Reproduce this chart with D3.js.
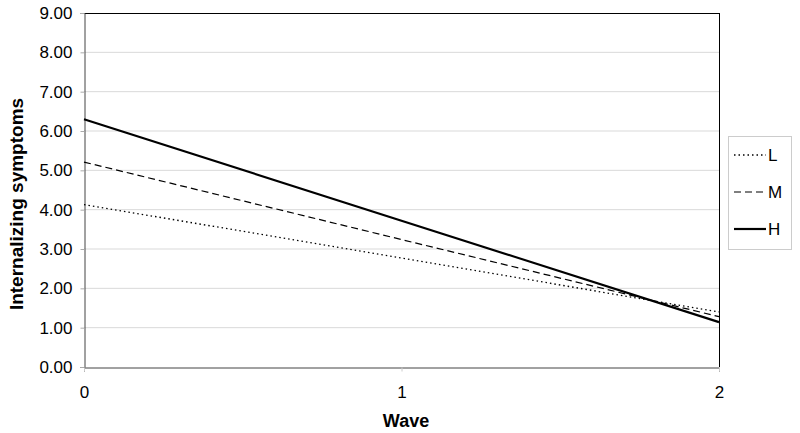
<!DOCTYPE html>
<html lang="en">
  <head>
    <meta charset="UTF-8">
    <script src="https://d3js.org/d3.v7.min.js"></script>
    <style>
      html,body{ margin:0; background:#fff; }
      svg{ font-family: "Liberation Sans", Arial, sans-serif; }
    </style>
  </head>
  <body>
    <svg id="chart" width="800" height="433"></svg>
  </body>
</html>
<script>
var waves = [0, 1, 2];
var yTicks = [0, 1, 2, 3, 4, 5, 6, 7, 8, 9];
var seriesNames = ["L", "M", "H"];
var valuesL = [4.13, 2.77, 1.40];
var valuesM = [5.21, 3.24, 1.28];
var valuesH = [6.30, 3.72, 1.14];
var dashes = ["1.5,3", "7,4", null];
var widths = [1.3, 1.2, 2.2];

var svg = d3.select("#chart");
var margin = {left: 84, top: 13, right: 719, bottom: 367};

var x = d3.scaleLinear().domain([0, 2]).range([margin.left, margin.right]);
var y = d3.scaleLinear().domain([0, 9]).range([margin.bottom, margin.top]);

// gridlines
svg.append("g").selectAll("line").data(yTicks.slice(1, -1)).enter().append("line")
    .attr("x1", margin.left).attr("x2", margin.right)
    .attr("y1", function(d){ return y(d); }).attr("y2", function(d){ return y(d); })
    .attr("stroke", "#d9d9d9").attr("stroke-width", 1);

// frame top/right
svg.append("line").attr("x1", margin.left).attr("x2", margin.right)
    .attr("y1", margin.top + 0.5).attr("y2", margin.top + 0.5).attr("stroke", "#000");
svg.append("line").attr("x1", margin.right + 0.5).attr("x2", margin.right + 0.5)
    .attr("y1", margin.top).attr("y2", margin.bottom).attr("stroke", "#000");

// axes
var yAxis = d3.axisLeft(y).tickValues(yTicks).tickFormat(d3.format(".2f")).tickSize(4).tickPadding(8);
var gy = svg.append("g").attr("transform", "translate(" + (margin.left + 0.5) + ",0)").call(yAxis);
gy.select(".domain").attr("stroke", "#444");
gy.selectAll(".tick line").attr("stroke", "#aaa");
gy.selectAll("text").attr("font-size", 17).attr("fill", "#000");

var xAxis = d3.axisBottom(x).tickValues(waves).tickFormat(d3.format("d")).tickSize(4).tickPadding(14);
var gx = svg.append("g").attr("transform", "translate(0," + (margin.bottom + 0.5) + ")").call(xAxis);
gx.select(".domain").attr("stroke", "#444");
gx.selectAll(".tick line").attr("stroke", "#ccc");
gx.selectAll("text").attr("font-size", 17).attr("fill", "#000");

// axis titles
svg.append("text").attr("x", 406).attr("y", 427).attr("text-anchor", "middle")
    .attr("font-size", 18).attr("font-weight", "bold").text("Wave");
svg.append("text").attr("transform", "translate(23,204) rotate(-90)").attr("text-anchor", "middle")
    .attr("font-size", 19).attr("font-weight", "bold").text("Internalizing symptoms");

// series
var allValues = [valuesL, valuesM, valuesH];
var line = d3.line().x(function(d, i){ return x(waves[i]); }).y(function(d){ return y(d); });
allValues.forEach(function(vals, k){
  svg.append("path").datum(vals).attr("d", line)
      .attr("fill", "none").attr("stroke", "#000")
      .attr("stroke-width", widths[k])
      .attr("stroke-dasharray", dashes[k]);
});

// legend
var lg = svg.append("g");
lg.append("rect").attr("x", 728.5).attr("y", 136.5).attr("width", 63).attr("height", 113)
    .attr("fill", "#fff").attr("stroke", "#ccc");
seriesNames.forEach(function(name, k){
  var ly = 155 + k * 37;
  lg.append("line").attr("x1", 734).attr("x2", 766).attr("y1", ly).attr("y2", ly)
      .attr("stroke", "#000").attr("stroke-width", widths[k]).attr("stroke-dasharray", dashes[k]);
  lg.append("text").attr("x", 768).attr("y", ly + 6).attr("font-size", 17).text(name);
});
</script>
